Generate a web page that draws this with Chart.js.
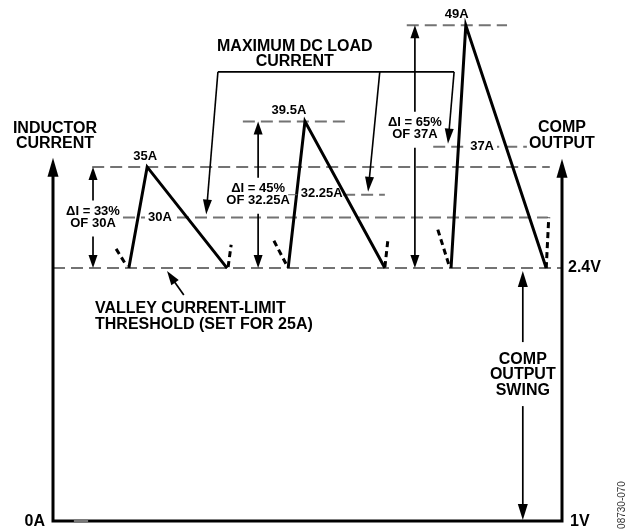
<!DOCTYPE html>
<html>
<head>
<meta charset="utf-8">
<script src="https://cdn.jsdelivr.net/npm/chart.js@4"></script>
<style>
  html, body { margin: 0; padding: 0; background: #fff; }
  canvas { display: block; }
</style>
</head>
<body>
<canvas id="chart" width="626" height="531"></canvas>
<script>
// ── DATA ──────────────────────────────────────────────────────
// x = time (arbitrary units, 0-100 across the plot), y = inductor current (A)
const valleyCurrent = 25;                 // valley current-limit threshold
const loadCurrents = [30, 32.25, 37];     // maximum DC load current, per case
const loadLabels = ['30A', '32.25A', '37A'];
const peakCurrents = [35, 39.5, 49];      // peak inductor current, per case
const peakLabels = ['35A', '39.5A', '49A'];
const rippleText = ['ΔI = 33%', 'ΔI = 45%', 'ΔI = 65%'];
const rippleOf = ['OF 30A', 'OF 32.25A', 'OF 37A'];
const rampStart = [14.9, 46.2, 78.2];
const peakTime = [18.5, 49.5, 81.1];
const rampEnd = [34.2, 65.2, 96.9];
// dashed tails of the neighbouring switching cycles
const tailX = [[12.4, 14.5], [34.4, 35.0], [43.4, 46.0], [65.2, 65.8], [75.6, 77.8], [96.9, 97.4]];
const tailY = [[26.9, 25.2], [25.1, 27.3], [27.7, 25.2], [25.1, 27.8], [28.8, 25.3], [25.0, 30.0]];
// dashed reference levels (A) and the time span each one covers
const refLevels = [25, 30, 35, 39.5, 32.25, 37, 49];
const refFrom = [0, 13.75, 7.7, 37.3, 57.0, 74.7, 69.5];
const refTo = [100, 97.2, 97.6, 57.4, 65.2, 93.1, 89.2];
const axisTop = 35.9;                     // where the two axis arrows end
const compVolts = ['1V', '2.4V'];         // COMP output at 0A line and at the valley line

// ── HELPERS ───────────────────────────────────────────────────
const FONT = '"Liberation Sans", Arial, sans-serif';
const BIG = 'bold 16px ' + FONT;
const SMALL = 'bold 13px ' + FONT;

function head(ctx, x1, y1, x2, y2, len, w) {
  const a = Math.atan2(y2 - y1, x2 - x1), c = Math.cos(a), s = Math.sin(a);
  ctx.beginPath();
  ctx.moveTo(x2, y2);
  ctx.lineTo(x2 - len * c + (w / 2) * s, y2 - len * s - (w / 2) * c);
  ctx.lineTo(x2 - len * c - (w / 2) * s, y2 - len * s + (w / 2) * c);
  ctx.closePath();
  ctx.fill();
}
function arrow(ctx, x1, y1, x2, y2, len, w, lw) {
  const a = Math.atan2(y2 - y1, x2 - x1);
  ctx.lineWidth = lw;
  ctx.beginPath();
  ctx.moveTo(x1, y1);
  ctx.lineTo(x2 - (len - 2) * Math.cos(a), y2 - (len - 2) * Math.sin(a));
  ctx.stroke();
  head(ctx, x1, y1, x2, y2, len, w);
}
function text(ctx, str, x, y, font, align, bg) {
  ctx.font = font;
  ctx.textAlign = align || 'center';
  ctx.textBaseline = 'middle';
  if (bg) {
    const w = ctx.measureText(str).width + 6;
    const left = align === 'left' ? x - 3 : align === 'right' ? x - w + 3 : x - w / 2;
    ctx.fillStyle = '#fff';
    ctx.fillRect(left, y - 7, w, 14);
  }
  ctx.fillStyle = '#000';
  ctx.fillText(str, x, y);
}

// ── ANNOTATIONS ───────────────────────────────────────────────
const diagram = {
  id: 'diagram',
  afterDatasetsDraw(chart) {
    const { ctx, scales: { x, y } } = chart;
    const X = v => x.getPixelForValue(v), Y = v => y.getPixelForValue(v);
    ctx.save();
    ctx.setLineDash([]);
    ctx.lineJoin = 'miter';
    ctx.strokeStyle = '#000';
    ctx.fillStyle = '#000';

    // frame: current axis, COMP axis, 0A / 1V baseline
    const xl = X(0), xr = X(100), yb = Y(0), yt = Y(axisTop), yv = Y(valleyCurrent);
    ctx.lineWidth = 3;
    ctx.beginPath();
    ctx.moveTo(xl, yt + 15); ctx.lineTo(xl, yb); ctx.lineTo(xr, yb); ctx.lineTo(xr, yt + 15);
    ctx.stroke();
    head(ctx, xl, yb, xl, yt, 19, 11);
    head(ctx, xr, yb, xr, yt + 1, 19, 11);
    ctx.strokeStyle = '#777';
    ctx.beginPath(); ctx.moveTo(X(4.1), yb); ctx.lineTo(X(6.9), yb); ctx.stroke();
    ctx.strokeStyle = '#000';

    text(ctx, 'INDUCTOR', xl + 2, yt - 29, BIG);
    text(ctx, 'CURRENT', xl + 2, yt - 14, BIG);
    text(ctx, 'COMP', xr, yt - 30, BIG);
    text(ctx, 'OUTPUT', xr, yt - 14, BIG);
    text(ctx, '0A', xl - 8, yb + 1, BIG, 'right');
    text(ctx, compVolts[0], xr + 8, yb + 1, BIG, 'left');
    text(ctx, compVolts[1], xr + 6, yv, BIG, 'left');

    // ripple arrows with their labels
    const rippleX = [7.86, 40.3, 71.1];
    const rippleDy = [0, 0, -18];
    peakCurrents.forEach((pk, i) => {
      const cx = X(rippleX[i]), top = Y(pk);
      const mid = (top + yv) / 2 + rippleDy[i];
      arrow(ctx, cx, mid - 17, cx, top, 13, 9, 1.7);
      arrow(ctx, cx, mid + 19, cx, yv, 13, 9, 1.7);
      text(ctx, rippleText[i], cx, mid - 6, SMALL);
      text(ctx, rippleOf[i], cx, mid + 6, SMALL);
    });

    // peak labels
    const peakDx = [-2, -16, -9];
    peakCurrents.forEach((pk, i) => text(ctx, peakLabels[i], X(peakTime[i]) + peakDx[i], Y(pk) - 11, SMALL));

    // load current labels
    text(ctx, loadLabels[0], X(21.0), Y(loadCurrents[0]), SMALL, 'center', true);
    ctx.strokeStyle = '#666'; ctx.lineWidth = 1;
    ctx.beginPath(); ctx.moveTo(X(46.2), Y(loadCurrents[1])); ctx.lineTo(X(48.0), Y(loadCurrents[1])); ctx.stroke();
    ctx.strokeStyle = '#000';
    text(ctx, loadLabels[1], X(52.8), Y(loadCurrents[1]) - 1, SMALL);
    text(ctx, loadLabels[2], X(84.3), Y(loadCurrents[2]), SMALL, 'center', true);

    // MAXIMUM DC LOAD CURRENT bracket
    const by = Y(44.4);
    const bracketTop = [32.4, 64.2, 78.8];
    const bracketTip = [30.1, 61.9, 77.6];
    ctx.lineWidth = 1.6;
    ctx.beginPath(); ctx.moveTo(X(bracketTop[0]), by); ctx.lineTo(X(bracketTop[2]), by); ctx.stroke();
    loadCurrents.forEach((lc, i) => arrow(ctx, X(bracketTop[i]), by, X(bracketTip[i]), Y(lc) - 3, 15, 9, 1.6));
    text(ctx, 'MAXIMUM DC LOAD', X(47.5), by - 25, BIG);
    text(ctx, 'CURRENT', X(47.5), by - 10, BIG);

    // valley threshold callout
    arrow(ctx, X(25.7), yv + 27, X(22.4), yv + 3, 14, 9, 1.7);
    text(ctx, 'VALLEY CURRENT-LIMIT', X(8.25), yv + 41, BIG, 'left');
    text(ctx, 'THRESHOLD (SET FOR 25A)', X(8.25), yv + 57, BIG, 'left');

    // COMP output swing
    const sx = X(92.3);
    arrow(ctx, sx, yv + 74, sx, yv + 3, 16, 10, 1.7);
    arrow(ctx, sx, yv + 138, sx, yb - 1, 16, 10, 1.7);
    text(ctx, 'COMP', sx, yv + 92, BIG);
    text(ctx, 'OUTPUT', sx, yv + 107, BIG);
    text(ctx, 'SWING', sx, yv + 123, BIG);

    // figure id
    ctx.save();
    ctx.translate(622, 505);
    ctx.rotate(-Math.PI / 2);
    ctx.font = '10px ' + FONT;
    ctx.fillStyle = '#333';
    ctx.textAlign = 'center';
    ctx.textBaseline = 'middle';
    ctx.fillText('08730-070', 0, 0);
    ctx.restore();

    ctx.restore();
  }
};

// ── CHART ─────────────────────────────────────────────────────
const line = (data, extra) => Object.assign({
  data, showLine: true, pointRadius: 0, fill: false, tension: 0, clip: false,
  borderColor: '#000', borderJoinStyle: 'miter'
}, extra);

const datasets = [
  ...peakCurrents.map((pk, i) => line([
    { x: rampStart[i], y: valleyCurrent },
    { x: peakTime[i], y: pk },
    { x: rampEnd[i], y: valleyCurrent }
  ], { borderWidth: 3, order: 0 })),
  ...tailX.map((tx, i) => line([
    { x: tx[0], y: tailY[i][0] },
    { x: tx[1], y: tailY[i][1] }
  ], { borderWidth: 3, borderDash: [6, 4], order: 1 })),
  ...refLevels.map((lv, i) => line([
    { x: refFrom[i], y: lv },
    { x: refTo[i], y: lv }
  ], { borderWidth: 2, borderColor: '#737373', borderDash: [12, 6], order: 2 }))
];

new Chart(document.getElementById('chart'), {
  type: 'scatter',
  data: { datasets },
  options: {
    responsive: false,
    animation: false,
    events: [],
    layout: { padding: { left: 53, right: 64, top: 0, bottom: 10 } },
    plugins: { legend: { display: false }, tooltip: { enabled: false } },
    scales: {
      x: { type: 'linear', min: 0, max: 100, display: false },
      y: { type: 'linear', min: 0, max: 51.5, display: false }
    }
  },
  plugins: [diagram]
});
</script>
</body>
</html>
